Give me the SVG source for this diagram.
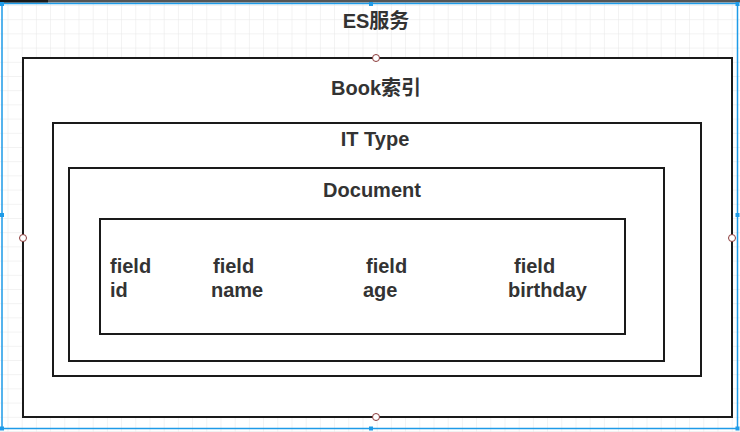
<svg xmlns="http://www.w3.org/2000/svg" width="740" height="432" viewBox="0 0 740 432">
  <defs>
    <pattern id="grid" x="7.5" y="5" width="14.2" height="14.2" patternUnits="userSpaceOnUse">
      <path d="M0 0H14.2M0 0V14.2" fill="none" stroke="#e6e6e6" stroke-width="1"/>
    </pattern>
    <style>
      .box { fill: #ffffff; stroke: #1a1a1a; stroke-width: 2; }
      .lbl { font-family: "Liberation Sans", Arial, "Noto Sans CJK SC", sans-serif; font-weight: bold; font-size: 20px; fill: #333333; }
      .c { text-anchor: middle; }
      .pt { fill: #ffffff; stroke: #8b3a3a; stroke-width: 1; }
      .h { fill: #1e9be8; }
    </style>
  </defs>
  <rect width="740" height="432" fill="#ffffff"/>
  <rect width="740" height="432" fill="url(#grid)"/>
  <rect x="0" y="0" width="740" height="2.5" fill="#555555"/>
  <rect x="0" y="0" width="48" height="2.5" fill="#1a1a1a"/>

  <g id="es-service">
    <rect x="2" y="3.5" width="735.5" height="425" fill="none" stroke="#1e9be8" stroke-width="1.5"/>
    <text class="lbl c" x="376" y="28">ES服务</text>
  </g>

  <g id="book-index">
    <rect class="box" x="23" y="58" width="709" height="359"/>
    <text class="lbl c" x="376" y="95">Book索引</text>
  </g>

  <g id="it-type">
    <rect class="box" x="53" y="123" width="648" height="253"/>
    <text class="lbl c" x="375" y="146">IT Type</text>
  </g>

  <g id="document">
    <rect class="box" x="69" y="168" width="595" height="193"/>
    <text class="lbl c" x="372" y="197">Document</text>
  </g>

  <g id="fields">
    <rect class="box" x="100" y="219" width="525" height="115"/>
    <text class="lbl" x="110" y="273">field</text>
    <text class="lbl" x="110" y="297">id</text>
    <text class="lbl" x="213" y="273">field</text>
    <text class="lbl" x="211" y="297">name</text>
    <text class="lbl" x="366" y="273">field</text>
    <text class="lbl" x="363" y="297">age</text>
    <text class="lbl" x="514" y="273">field</text>
    <text class="lbl" x="508" y="297">birthday</text>
  </g>

  <g id="connectors">
    <circle class="pt" cx="376" cy="58" r="3.5"/>
    <circle class="pt" cx="23" cy="238" r="3.5"/>
    <circle class="pt" cx="732" cy="238" r="3.5"/>
    <circle class="pt" cx="376" cy="417" r="3.5"/>
    <rect class="h" x="0" y="2" width="4" height="4"/>
    <rect class="h" x="369" y="2" width="4" height="4"/>
    <rect class="h" x="735.5" y="2" width="4" height="4"/>
    <rect class="h" x="0" y="213" width="4" height="4"/>
    <rect class="h" x="735.5" y="213" width="4" height="4"/>
    <rect class="h" x="0" y="426.5" width="4" height="4"/>
    <rect class="h" x="369" y="426.5" width="4" height="4"/>
    <rect class="h" x="735.5" y="426.5" width="4" height="4"/>
  </g>
</svg>
